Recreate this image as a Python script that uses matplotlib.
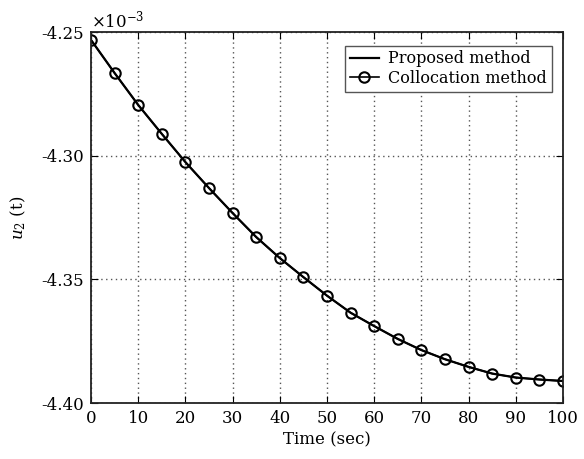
import matplotlib
matplotlib.use("Agg")
import matplotlib.pyplot as plt

plt.rcParams['font.family'] = ['DejaVu Serif']
plt.rcParams['mathtext.fontset'] = 'dejavuserif'
plt.rcParams['axes.unicode_minus'] = False

t = [0, 5, 10, 15, 20, 25, 30, 35, 40, 45, 50, 55, 60, 65, 70, 75, 80, 85, 90, 95, 100]
u2 = [-4.2532, -4.2666, -4.2795, -4.2912, -4.3026, -4.3131, -4.3232, -4.3329, -4.3414,
      -4.3491, -4.3566, -4.3635, -4.3689, -4.3741, -4.3786, -4.3823, -4.3854, -4.3881,
      -4.3897, -4.3905, -4.3911]
xticks = [0, 10, 20, 30, 40, 50, 60, 70, 80, 90, 100]
yticks = [-4.40, -4.35, -4.30, -4.25]

fig = plt.figure(figsize=(5.84, 4.59), dpi=100)
ax = fig.add_axes([0.156, 0.122, 0.808, 0.808])
ax.plot(t, u2, '-', color='black', lw=1.6, label='Proposed method')
ax.plot(t, u2, '-o', color='black', lw=1.2, ms=7.5, mfc='none', mew=1.5, label='Collocation method')
ax.set_xlim(0, 100)
ax.set_ylim(-4.40, -4.25)
ax.set_xticks(xticks)
ax.set_yticks(yticks)
ax.set_yticklabels([f"{v:.2f}" for v in yticks])
ax.tick_params(direction='in', top=True, right=True, labelsize=12, length=5, pad=5)
ax.grid(True, linestyle=(0, (1, 2.5)), color='#555555', lw=1.0)
for s in ax.spines.values():
    s.set_linewidth(1.3)
    s.set_color('#222222')
ax.set_xlabel('Time (sec)', fontsize=12, labelpad=3)
ax.set_ylabel(r'$u_2$ (t)', fontsize=12, labelpad=10)
ax.text(0.0, 1.002, r'$\times10^{-3}$', transform=ax.transAxes, fontsize=12,
        ha='left', va='bottom')
leg = ax.legend(loc='upper right', fontsize=11.5, fancybox=False, framealpha=1,
                edgecolor='#555555', borderpad=0.3, handlelength=1.8, labelspacing=0.15,
                handletextpad=0.6, bbox_to_anchor=(0.993, 0.985))
leg.get_frame().set_linewidth(1.0)
fig.savefig('out.png', dpi=100)
